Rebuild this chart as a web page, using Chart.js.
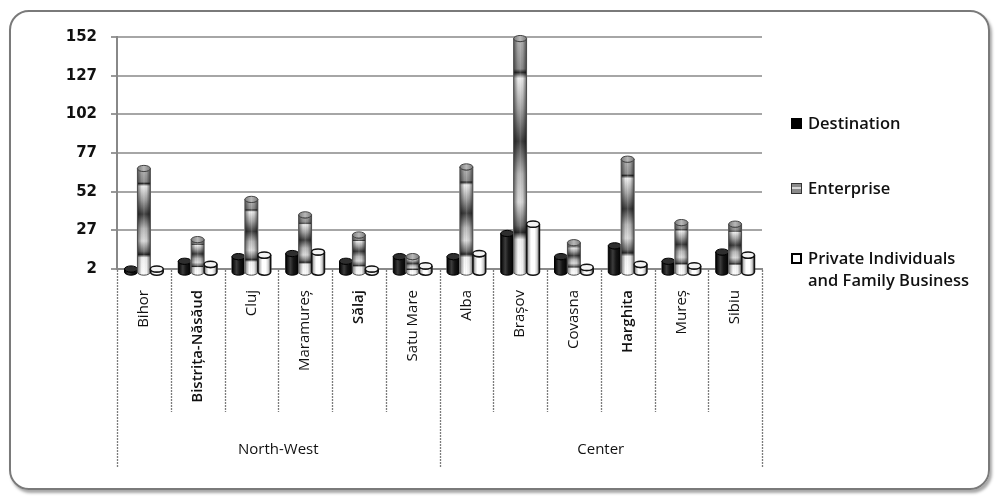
<!DOCTYPE html>
<html>
<head>
<meta charset="utf-8">
<script src="https://cdn.jsdelivr.net/npm/chart.js@4/dist/chart.umd.min.js"></script>
<style>
  html, body { margin: 0; padding: 0; background: #fff; }
  #wrap { position: relative; width: 995px; height: 498px; overflow: hidden; }
  #frame {
    position: absolute; left: 9px; top: 10px; width: 977px; height: 476px;
    border: 2px solid #7a7a7a; border-radius: 20px;
    box-shadow: 2px 3px 3px rgba(0,0,0,0.35);
  }
  canvas { position: absolute; left: 0; top: 0; }
</style>
</head>
<body>
<div id="wrap">
  <div id="frame"></div>
  <canvas id="chart" width="995" height="498" style="width:995px;height:498px"></canvas>
</div>
<script>
// Counties grouped by development region
const counties = ['Bihor', 'Bistrița-Năsăud', 'Cluj', 'Maramureș', 'Sălaj', 'Satu Mare',
                  'Alba', 'Brașov', 'Covasna', 'Harghita', 'Mureș', 'Sibiu'];
const regions = ['North-West', 'Center'];
const regionSizes = [6, 6];

// Series values per county
const destination   = [2, 7, 10, 12, 7, 10, 10, 25, 10, 17, 7, 13];
const enterprise    = [67, 21, 47, 37, 24, 10, 68, 151, 19, 73, 32, 31];
const privateFamily = [2, 5, 11, 13, 2, 4, 12, 31, 3, 5, 4, 11];

const seriesNames = ['Destination', 'Enterprise', 'Private Individuals and Family Business'];
const legendLines = [['Destination'], ['Enterprise'], ['Private Individuals', 'and Family Business']];
const yTicks = [2, 27, 52, 77, 102, 127, 152];
// county names printed in a heavier face
const boldCounties = ['Bistrița-Năsăud', 'Sălaj', 'Harghita'];

// Paints each bar as a shaded cylinder on top of the plain bar
function cylinderBody(c, x, y, base, w, ry) {
  const l = x - w / 2, r = x + w / 2, rx = w / 2;
  c.beginPath();
  c.moveTo(l, y);
  c.lineTo(l, base);
  c.ellipse(x, base, rx, ry, 0, Math.PI, 0, true);
  c.lineTo(r, y);
  c.ellipse(x, y, rx, ry, 0, 0, Math.PI, false);
  c.closePath();
}

const cylinders = {
  id: 'cylinders',
  afterDatasetsDraw(chart) {
    const c = chart.ctx;
    chart.data.datasets.forEach((ds, di) => {
      const meta = chart.getDatasetMeta(di);
      meta.data.forEach(bar => {
        const p = bar.getProps(['x', 'y', 'base', 'width'], true);
        const x = p.x, w = p.width, base = p.base, y = Math.min(p.y, base);
        const l = x - w / 2, r = x + w / 2, rx = w / 2, ry = Math.max(2.5, w * 0.24);
        c.save();
        c.fillStyle = '#fff';
        c.fillRect(l - 0.5, y, w + 1, base - y + 0.5);

        cylinderBody(c, x, y, base, w, ry);
        if (di === 0) {
          const g = c.createLinearGradient(l, 0, r, 0);
          g.addColorStop(0, '#000'); g.addColorStop(0.35, '#3c3c3c');
          g.addColorStop(0.6, '#161616'); g.addColorStop(1, '#000');
          c.fillStyle = g; c.fill();
          c.strokeStyle = '#000'; c.lineWidth = 1; c.stroke();
        } else if (di === 1) {
          const h = Math.max(base - y, 1);
          const g = c.createLinearGradient(0, y, 0, y + h);
          g.addColorStop(0, '#b4b4b4'); g.addColorStop(0.13, '#8c8c8c');
          g.addColorStop(0.145, '#2c2c2c'); g.addColorStop(0.17, '#f0f0f0');
          g.addColorStop(0.3, '#a4a4a4'); g.addColorStop(0.44, '#3e3e3e');
          g.addColorStop(0.58, '#b8b8b8'); g.addColorStop(0.7, '#dcdcdc');
          g.addColorStop(0.8, '#6e6e6e'); g.addColorStop(0.83, '#2a2a2a');
          g.addColorStop(0.86, '#f4f4f4'); g.addColorStop(1, '#ffffff');
          c.fillStyle = g; c.fill();
          const s = c.createLinearGradient(l, 0, r, 0);
          s.addColorStop(0, 'rgba(0,0,0,0.5)'); s.addColorStop(0.35, 'rgba(0,0,0,0)');
          s.addColorStop(0.5, 'rgba(255,255,255,0.15)'); s.addColorStop(0.7, 'rgba(0,0,0,0.05)');
          s.addColorStop(1, 'rgba(0,0,0,0.55)');
          c.fillStyle = s; c.fill();
          c.strokeStyle = '#4a4a4a'; c.lineWidth = 1; c.stroke();
        } else {
          const g = c.createLinearGradient(l, 0, r, 0);
          g.addColorStop(0, '#303030'); g.addColorStop(0.15, '#bcbcbc');
          g.addColorStop(0.35, '#ffffff'); g.addColorStop(0.62, '#ffffff');
          g.addColorStop(0.82, '#cfcfcf'); g.addColorStop(1, '#3a3a3a');
          c.fillStyle = g; c.fill();
          c.strokeStyle = '#111'; c.lineWidth = 1.5; c.stroke();
        }

        // top cap
        c.beginPath();
        c.ellipse(x, y, rx, ry, 0, 0, Math.PI * 2);
        if (di === 0) {
          c.fillStyle = '#2e2e2e'; c.fill();
          c.strokeStyle = '#000'; c.lineWidth = 1; c.stroke();
        } else if (di === 1) {
          const g = c.createLinearGradient(l, 0, r, 0);
          g.addColorStop(0, '#7a7a7a'); g.addColorStop(0.5, '#b8b8b8'); g.addColorStop(1, '#7a7a7a');
          c.fillStyle = g; c.fill();
          c.strokeStyle = '#444'; c.lineWidth = 1; c.stroke();
        } else {
          c.fillStyle = '#f4f4f4'; c.fill();
          c.strokeStyle = '#111'; c.lineWidth = 1.5; c.stroke();
        }
        c.restore();
      });
    });
  }
};

// Category dividers, region row and legend
const decor = {
  id: 'decor',
  afterDraw(chart) {
    const c = chart.ctx;
    const xs = chart.scales.x;
    const area = chart.chartArea;
    const step = xs.getPixelForValue(1) - xs.getPixelForValue(0);
    const first = xs.getPixelForValue(0) - step / 2;
    const top = area.bottom + 1;
    const cityEnd = 412, regionEnd = 467;
    const regionBounds = [0];
    regionSizes.forEach(n => regionBounds.push(regionBounds[regionBounds.length - 1] + n));

    c.save();
    c.strokeStyle = '#7c7c7c';
    c.lineWidth = 1.3;
    c.setLineDash([2, 1]);
    for (let i = 0; i <= counties.length; i++) {
      const bx = Math.round(first + i * step) + 0.5;
      const isRegion = regionBounds.includes(i);
      c.beginPath();
      c.moveTo(bx, top);
      c.lineTo(bx, isRegion ? regionEnd : cityEnd);
      c.stroke();
    }
    c.setLineDash([]);
    c.fillStyle = '#111';
    c.font = '15px "Open Sans"';
    c.textAlign = 'center';
    c.textBaseline = 'middle';
    regions.forEach((name, k) => {
      const a = first + regionBounds[k] * step, b = first + regionBounds[k + 1] * step;
      c.fillText(name, (a + b) / 2, 450);
    });

    // legend
    const entries = [
      { y: 123, lines: legendLines[0] },
      { y: 188, lines: legendLines[1] },
      { y: 258, lines: legendLines[2] }
    ];
    c.textAlign = 'left';
    c.textBaseline = 'middle';
    c.font = '600 16.5px "Open Sans"';
    entries.forEach((e, k) => {
      const sx = 791, sy = e.y - 5, sz = 11;
      if (k === 0) {
        c.fillStyle = '#000'; c.fillRect(sx, sy, sz, sz);
      } else if (k === 1) {
        c.fillStyle = '#8a8a8a'; c.fillRect(sx, sy, sz, sz);
        c.fillStyle = '#d8d8d8'; c.fillRect(sx + 1, sy + 4, sz - 2, 2);
        c.strokeStyle = '#333'; c.lineWidth = 1; c.strokeRect(sx + 0.5, sy + 0.5, sz - 1, sz - 1);
      } else {
        c.fillStyle = '#fff'; c.fillRect(sx, sy, sz, sz);
        c.strokeStyle = '#000'; c.lineWidth = 2; c.strokeRect(sx + 1, sy + 1, sz - 2, sz - 2);
      }
      c.fillStyle = '#111';
      e.lines.forEach((t, j) => c.fillText(t, 808, e.y + 1 + j * 22));
    });
    c.restore();
  }
};

new Chart(document.getElementById('chart'), {
  type: 'bar',
  data: {
    labels: counties,
    datasets: [
      { label: seriesNames[0], data: destination, backgroundColor: '#000' },
      { label: seriesNames[1], data: enterprise, backgroundColor: '#999' },
      { label: seriesNames[2], data: privateFamily, backgroundColor: '#fff' }
    ]
  },
  options: {
    responsive: false,
    animation: false,
    layout: { padding: { left: 37, right: 233, top: 37, bottom: 81 } },
    datasets: { bar: { categoryPercentage: 0.72, barPercentage: 1 } },
    plugins: { legend: { display: false }, tooltip: { enabled: false } },
    scales: {
      x: {
        grid: { display: false, drawTicks: false },
        border: { display: true, color: '#8a8a8a', width: 2 },
        ticks: {
          autoSkip: false, maxRotation: 90, minRotation: 90, padding: 21,
          color: '#111',
          font: ctx => {
            const bold = boldCounties.includes(counties[ctx.index]);
            return { family: 'Open Sans', size: 15, weight: bold ? '600' : 'normal' };
          }
        },
        afterFit(s) { s.height = 148; }
      },
      y: {
        min: 2, max: 152,
        afterBuildTicks(s) { s.ticks = yTicks.map(v => ({ value: v })); },
        grid: { color: '#a6a6a6', lineWidth: 2, tickLength: 6, tickColor: '#777', tickWidth: 1.5 },
        border: { display: true, color: '#888', width: 2 },
        ticks: {
          padding: 14, color: '#111',
          font: { family: 'DejaVu Sans', size: 15, weight: 'bold' }
        },
        afterFit(s) { s.width = 80; }
      }
    }
  },
  plugins: [cylinders, decor]
});
</script>
</body>
</html>
